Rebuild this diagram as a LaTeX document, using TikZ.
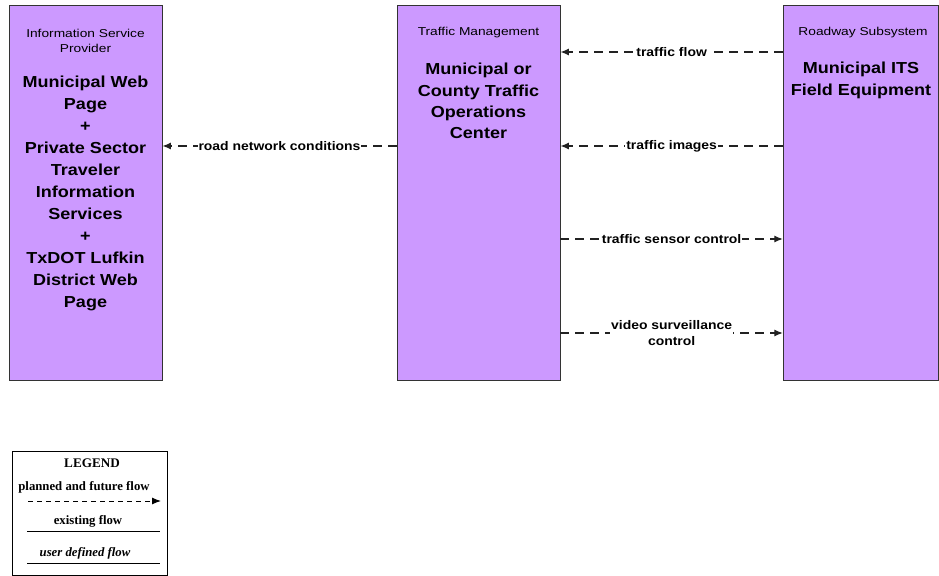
\documentclass[tikz,border=0pt]{standalone}
\usepackage{fontspec}
\setmainfont{Liberation Sans}
\newfontfamily\legfont{Liberation Serif}
\newfontfamily\ttlfont[FakeStretch=1.13]{Liberation Sans}
\newfontfamily\catfont[FakeStretch=1.2]{Liberation Sans}
\newfontfamily\lblfont[FakeStretch=1.12]{Liberation Sans}
\usetikzlibrary{arrows.meta}
\definecolor{boxfill}{HTML}{CC99FF}
\definecolor{edgegray}{HTML}{333333}
\definecolor{linegray}{HTML}{222222}
\tikzset{
  sysbox/.style={draw=edgegray, fill=boxfill, line width=0.9bp, inner sep=0pt},
  cattext/.style={font=\catfont\fontsize{11.5}{15}\selectfont, align=center, inner sep=0pt},
  ttltext/.style={font=\ttlfont\fontsize{16}{22}\selectfont\bfseries, align=center, inner sep=0pt},
  flowline/.style={draw=linegray, line width=1.1bp, dash pattern=on 9bp off 6bp, -{Latex[length=8.5bp,width=7bp]}},
  flowlbl/.style={fill=white, font=\lblfont\fontsize{12.5}{16}\selectfont\bfseries, align=center, inner sep=1bp},
  legtext/.style={font=\legfont\fontsize{12.8}{14}\selectfont\bfseries, inner sep=0pt},
}
\begin{document}
\begin{tikzpicture}[x=1bp,y=-1bp]
\useasboundingbox[fill=white] (0,0) rectangle (939,576);
% boxes
\node[sysbox, minimum width=153bp, minimum height=375bp] (isp) at (85.5,192.5) {};
\node[sysbox, minimum width=163bp, minimum height=375bp] (tm) at (478.5,192.5) {};
\node[sysbox, minimum width=155.5bp, minimum height=375bp] (rs) at (861,192.5) {};
% box texts
\node[cattext] (ispcat) at (85.5,40.5) {Information Service\\Provider};
\node[ttltext, font=\ttlfont\fontsize{16}{22}\selectfont\bfseries] (ispttl) at (85.5,193.5) {Municipal Web\\Page\\+\\Private Sector\\Traveler\\Information\\Services\\+\\TxDOT Lufkin\\District Web\\Page};
\node[cattext] (tmcat) at (478.5,33) {Traffic Management};
\node[ttltext, font=\ttlfont\fontsize{16}{21.3}\selectfont\bfseries] (tmttl) at (478.5,101) {Municipal or\\County Traffic\\Operations\\Center};
\node[cattext] (rscat) at (863,33) {Roadway Subsystem};
\node[ttltext, font=\ttlfont\fontsize{16}{22}\selectfont\bfseries] (rsttl) at (861,80.5) {Municipal ITS\\Field Equipment};
% flows
\draw[flowline] (rs.west |- 0,52) -- node[flowlbl] (lf1) {traffic flow} (tm.east |- 0,52);
\draw[flowline] (rs.west |- 0,146) -- node[flowlbl] (lf2) {traffic images} (tm.east |- 0,146);
\draw[flowline] (tm.east |- 0,239) -- node[flowlbl] (lf3) {traffic sensor control} (rs.west |- 0,239);
\draw[flowline] (tm.east |- 0,333) -- node[flowlbl, font=\lblfont\fontsize{12.5}{16}\selectfont\bfseries] (lf4) {video surveillance\\control} (rs.west |- 0,333);
\draw[flowline] (tm.west |- 0,146) -- node[flowlbl] (lf5) {road network conditions} (isp.east |- 0,146);
% legend
\node[draw=black, line width=0.9bp, minimum width=155bp, minimum height=124bp, inner sep=0pt] (leg) at (89.5,513) {};
\node[legtext, font=\legfont\fontsize{13.2}{14}\selectfont\bfseries] (legt) at (92,463) {LEGEND};
\node[legtext] (leg1) at (84,487) {planned and future flow};
\coordinate (l1a) at (28,501);
\coordinate (l1b) at (161,501);
\draw[draw=black, line width=1bp, dash pattern=on 5bp off 4bp, -{Latex[length=9bp,width=7bp]}] (l1a) -- (l1b);
\node[legtext] (leg2) at (88,521) {existing flow};
\coordinate (l2a) at (27,531);
\coordinate (l2b) at (160,531);
\draw[black, line width=1bp] (l2a) -- (l2b);
\node[legtext, font=\legfont\fontsize{12.8}{14}\selectfont\bfseries\itshape] (leg3) at (85,553) {user defined flow};
\coordinate (l3a) at (27,563);
\coordinate (l3b) at (160,563);
\draw[black, line width=1bp] (l3a) -- (l3b);
\end{tikzpicture}
\end{document}
